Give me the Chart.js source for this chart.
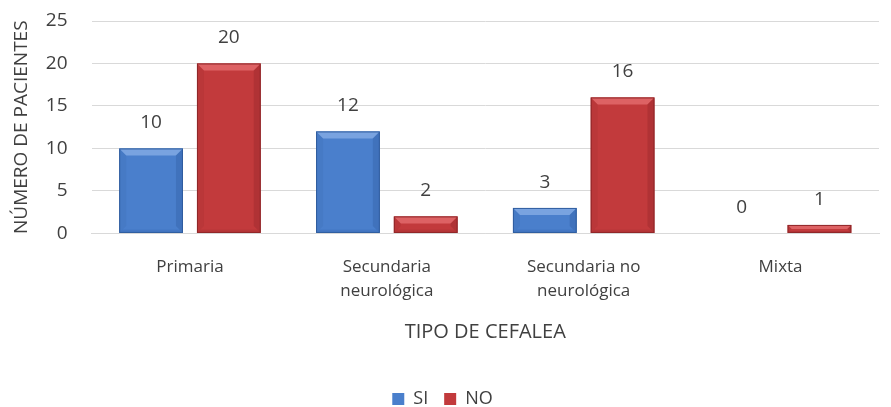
<!DOCTYPE html>
<html>
<head>
<meta charset="utf-8">
<script src="https://cdn.jsdelivr.net/npm/chart.js@4"></script>
<style>
  html, body { margin: 0; padding: 0; background: #fff; }
  #wrap { width: 891px; height: 407px; }
</style>
</head>
<body>
<div id="wrap"><canvas id="grafico"></canvas></div>
<script>
const categorias = [["Primaria"], ["Secundaria", "neurológica"], ["Secundaria no", "neurológica"], ["Mixta"]];
const valoresSI = [10, 12, 3, 0];
const valoresNO = [20, 2, 16, 1];
const ticksY = [0, 5, 10, 15, 20, 25];

const fuente = "'Open Sans', 'Noto Sans', sans-serif";
const gris = "#404040";

const colores = {
  SI: { base: "#4a7fcc", claro: "#79a3e0", oscuro: "#2f5c9e" },
  NO: { base: "#c23a3c", claro: "#dd6264", oscuro: "#8e2628" }
};

// bisel de las barras (borde claro arriba, bordes oscuros a los lados)
const bisel = {
  id: "bisel",
  afterDatasetsDraw(chart) {
    const ctx = chart.ctx;
    chart.data.datasets.forEach((ds, i) => {
      const c = colores[ds.label];
      chart.getDatasetMeta(i).data.forEach((bar) => {
        const izq = bar.x - bar.width / 2;
        const der = bar.x + bar.width / 2;
        const arriba = bar.y;
        const abajo = bar.base;
        const alto = abajo - arriba;
        if (alto < 0.5) return;
        const b = Math.min(7, alto / 2);
        ctx.save();
        ctx.fillStyle = c.claro;
        ctx.beginPath();
        ctx.moveTo(izq, arriba);
        ctx.lineTo(der, arriba);
        ctx.lineTo(der - b, arriba + b);
        ctx.lineTo(izq + b, arriba + b);
        ctx.closePath();
        ctx.fill();
        ctx.globalAlpha = 0.35;
        ctx.fillStyle = c.oscuro;
        ctx.beginPath();
        ctx.moveTo(der, arriba);
        ctx.lineTo(der, abajo);
        ctx.lineTo(der - b, abajo - b);
        ctx.lineTo(der - b, arriba + b);
        ctx.closePath();
        ctx.fill();
        ctx.globalAlpha = 0.2;
        ctx.beginPath();
        ctx.moveTo(izq, abajo);
        ctx.lineTo(der, abajo);
        ctx.lineTo(der - b / 2, abajo - b / 2);
        ctx.lineTo(izq + b / 2, abajo - b / 2);
        ctx.closePath();
        ctx.fill();
        ctx.globalAlpha = 0.15;
        ctx.beginPath();
        ctx.moveTo(izq, arriba);
        ctx.lineTo(izq + b, arriba + b);
        ctx.lineTo(izq + b, abajo - b);
        ctx.lineTo(izq, abajo);
        ctx.closePath();
        ctx.fill();
        ctx.globalAlpha = 1;
        ctx.strokeStyle = c.oscuro;
        ctx.lineWidth = 1;
        ctx.strokeRect(izq + 0.5, arriba + 0.5, bar.width - 1, alto - 1);
        ctx.restore();
      });
    });
  }
};

// etiquetas con el valor encima de cada barra
const etiquetas = {
  id: "etiquetas",
  afterDatasetsDraw(chart) {
    const ctx = chart.ctx;
    ctx.save();
    ctx.font = "19px " + fuente;
    ctx.fillStyle = gris;
    ctx.textAlign = "center";
    ctx.textBaseline = "bottom";
    chart.data.datasets.forEach((ds, i) => {
      chart.getDatasetMeta(i).data.forEach((bar, j) => {
        ctx.fillText(ds.data[j], bar.x, bar.y - 16);
      });
    });
    ctx.restore();
  }
};

new Chart(document.getElementById("grafico"), {
  type: "bar",
  data: {
    labels: categorias,
    datasets: [
      { label: "SI", data: valoresSI, backgroundColor: colores.SI.base },
      { label: "NO", data: valoresNO, backgroundColor: colores.NO.base }
    ]
  },
  options: {
    responsive: true,
    maintainAspectRatio: false,
    animation: false,
    categoryPercentage: 0.79,
    barPercentage: 0.82,
    layout: { padding: { top: 21, right: 12, left: 6, bottom: -11 } },
    plugins: {
      tooltip: { enabled: false },
      legend: {
        position: "bottom",
        labels: {
          font: { family: fuente, size: 18 },
          color: gris,
          boxWidth: 12,
          boxHeight: 12,
          padding: 16
        }
      }
    },
    scales: {
      x: {
        grid: { display: false },
        border: { color: "#d9d9d9" },
        ticks: { font: { family: fuente, size: 17, lineHeight: 1.4 }, color: gris, padding: 14 },
        title: {
          display: true,
          text: "TIPO DE CEFALEA",
          font: { family: fuente, size: 20 },
          color: gris,
          padding: { top: 3, bottom: 30 }
        }
      },
      y: {
        min: 0,
        max: 25,
        afterBuildTicks(axis) {
          axis.ticks = ticksY.map((v) => ({ value: v }));
        },
        grid: { color: "#d9d9d9", drawTicks: true, tickLength: 20, tickColor: "rgba(0,0,0,0)" },
        border: { display: false },
        ticks: { font: { family: fuente, size: 19 }, color: gris, padding: 4 },
        title: {
          display: true,
          text: "NÚMERO DE PACIENTES",
          font: { family: fuente, size: 19 },
          color: gris,
          padding: { bottom: 9 }
        }
      }
    }
  },
  plugins: [bisel, etiquetas]
});
</script>
</body>
</html>
